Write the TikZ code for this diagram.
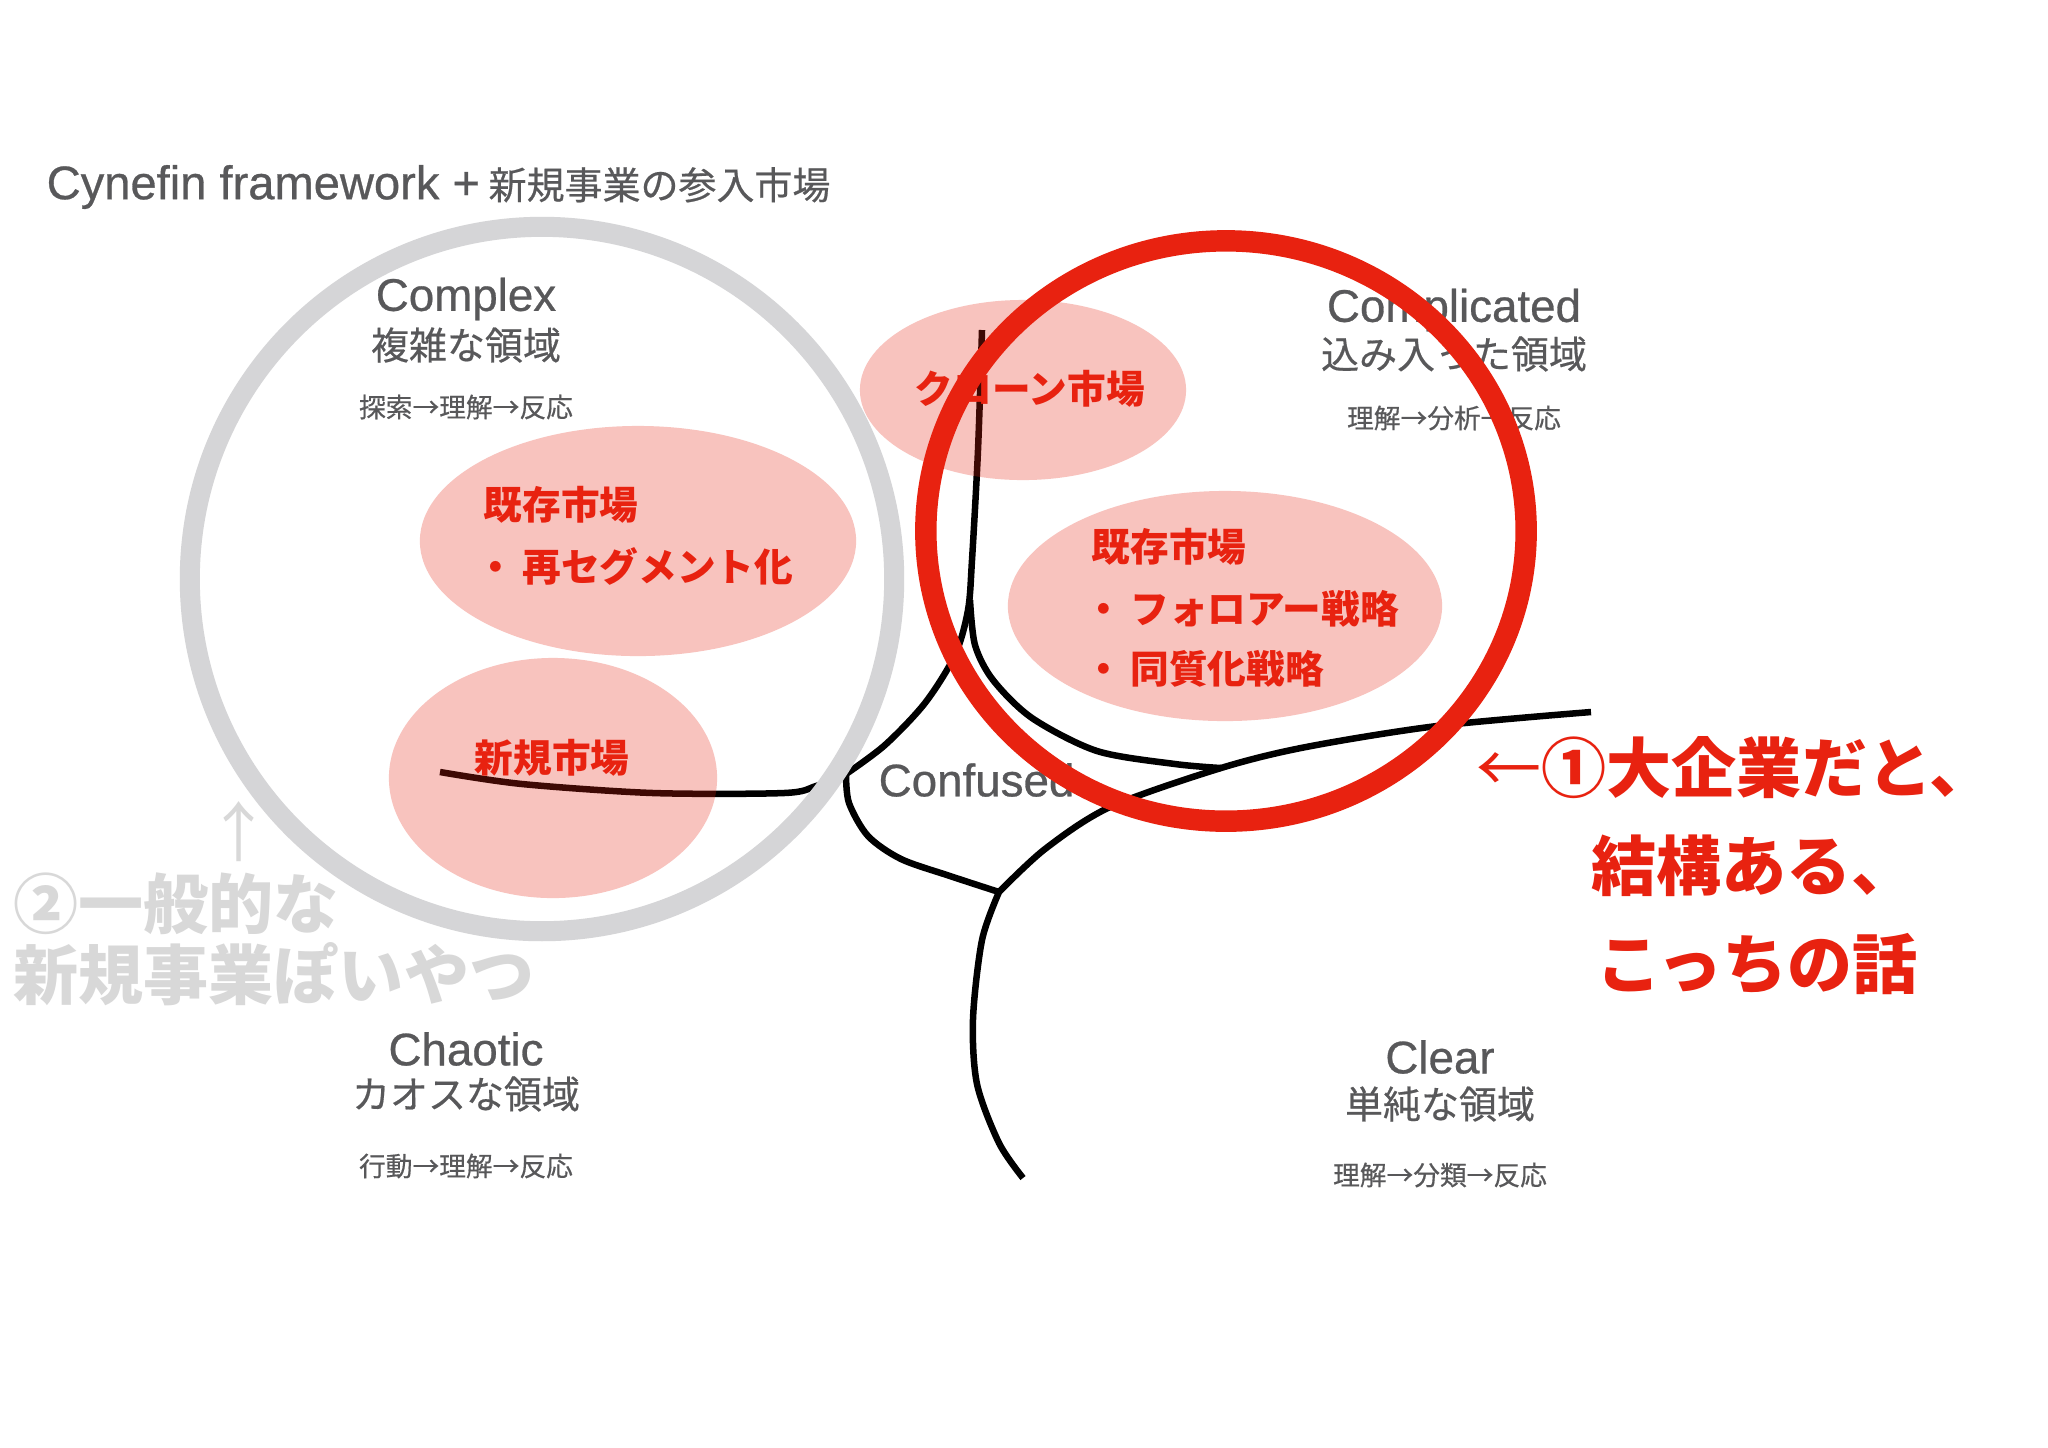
\documentclass[tikz,border=0pt]{standalone}
\usepackage{fontspec}
\setmainfont{Noto Sans CJK JP}
\newfontfamily\latinfont{Liberation Sans}[FakeBold=0.6]
\newfontfamily\jpmed{Noto Sans CJK JP}[FakeBold=0.5]
\usetikzlibrary{shapes.geometric}

\definecolor{labelgray}{RGB}{88,88,90}
\definecolor{ringgray}{RGB}{213,213,215}
\definecolor{notegray}{RGB}{216,216,216}
\definecolor{accent}{RGB}{232,34,16}

\begin{document}
\begin{tikzpicture}[x=0.01cm, y=-0.01cm,
  lbl/.style={text=labelgray, inner sep=0pt},
  domEN/.style={lbl, font=\latinfont\fontsize{13}{16}\selectfont},
  domJP/.style={lbl, font=\jpmed\fontsize{10.8}{13}\selectfont},
  flow/.style={lbl, font=\jpmed\fontsize{7.6}{9}\selectfont},
  market/.style={ellipse, fill=accent, fill opacity=0.27, inner sep=0pt},
  mkttext/.style={text=accent, anchor=west, inner sep=0pt, font=\bfseries\fontsize{11}{13}\selectfont},
  note/.style={anchor=west, inner sep=0pt, font=\bfseries\fontsize{18.5}{22}\selectfont},
  boundary/.style={line width=1.85pt, line join=round}]
\useasboundingbox[fill=white] (0,0) rectangle (2048,1447);

\node[lbl, anchor=west, font=\jpmed\fontsize{10.8}{13}\selectfont] (title) at (46,187) {{\latinfont\fontsize{13.4}{16}\selectfont Cynefin framework +} 新規事業の参入市場};

% domain boundaries
\draw[boundary] plot[smooth] coordinates {(982,330) (978,450) (972,560) (968,610) (955,655) (925,703) (885,745) (846,774)};
\draw[boundary] plot[smooth] coordinates {(970,600) (975,645) (993,680) (1032,718) (1097,751) (1175,764) (1221,768)};
\draw[boundary] plot[smooth] coordinates {(999,892) (1045,849) (1110,807) (1221,768) (1306,747) (1437,726) (1591,712)};
\draw[boundary] plot[smooth] coordinates {(846,774) (849,803) (868,836) (901,859) (950,876) (999,892)};
\draw[boundary] plot[smooth] coordinates {(999,892) (982,940) (973,1019) (977,1084) (999,1143) (1023,1178)};
\draw[boundary] plot[smooth] coordinates {(440,772) (522,784) (653,793) (784,793) (816,786) (846,774)};

\node[market, minimum width=4.36cm, minimum height=2.30cm] (segEll) at (638,541) {};
\node[market, minimum width=3.28cm, minimum height=2.40cm] (newEll) at (553,778) {};
\node[market, minimum width=3.26cm, minimum height=1.80cm] (cloneEll) at (1023,390) {};
\node[market, minimum width=4.34cm, minimum height=2.30cm] (followEll) at (1225,606) {};

\node[mkttext] (segHead) at (483,505) {既存市場};
\node[mkttext] (segItem) at (476,566) {・\kern2pt 再セグメント化};
\node[mkttext] (newHead) at (474,758) {新規市場};
\node[mkttext] (cloneHead) at (914,389) {クローン市場};
\node[mkttext] (followHead) at (1091,547) {既存市場};
\node[mkttext] (followItem) at (1084,609) {・\kern2pt フォロアー戦略};
\node[mkttext] (sameItem) at (1084,669) {・\kern2pt 同質化戦略};

\node[domEN] (complexEN) at (466,299) {Complex};
\node[domJP] (complexJP) at (466,345) {複雑な領域};
\node[flow] (complexFlow) at (466,407) {探索→理解→反応};
\node[domEN] (complicatedEN) at (1454,310) {Complicated};
\node[domJP] (complicatedJP) at (1454,354) {込み入った領域};
\node[flow] (complicatedFlow) at (1454,418) {理解→分析→反応};
\node[domEN] (chaoticEN) at (466,1049) {Chaotic};
\node[domJP] (chaoticJP) at (466,1094) {カオスな領域};
\node[flow] (chaoticFlow) at (466,1166) {行動→理解→反応};
\node[domEN] (clearEN) at (1440,1057) {Clear};
\node[domJP] (clearJP) at (1440,1104) {単純な領域};
\node[flow] (clearFlow) at (1440,1175) {理解→分類→反応};
\node[domEN, anchor=west] (confusedEN) at (878,780) {Confused};

\node[note, text=accent] (bigCorpA) at (1476,768) {{\mdseries ←}①大企業だと、};
\node[note, text=accent] (bigCorpB) at (1591,866) {結構ある、};
\node[note, text=accent] (bigCorpC) at (1596,964) {こっちの話};
\node[note, text=notegray, anchor=center] (upArrow) at (239,832) {\mdseries ↑};
\node[note, text=notegray] (usualA) at (13,904) {②一般的な};
\node[note, text=notegray] (usualB) at (13,974) {新規事業ぽいやつ};

\draw[ringgray, line width=5.7pt] (542,579) circle (3.52cm);
\draw[accent, line width=6.1pt] (1226,531) ellipse (3.00cm and 2.90cm);
\end{tikzpicture}
\end{document}
